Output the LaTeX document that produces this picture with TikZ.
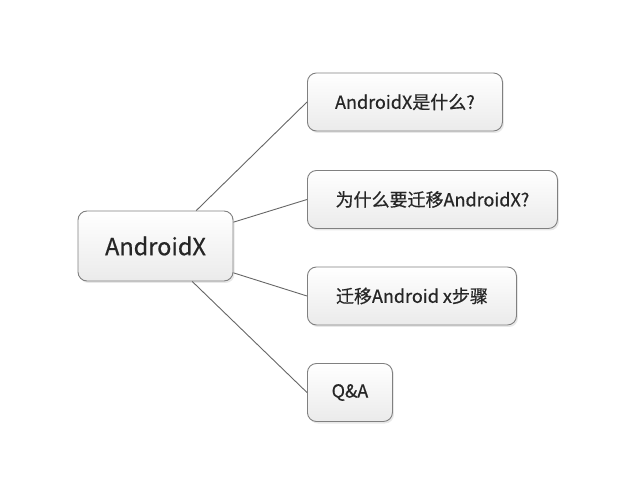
\documentclass[tikz,border=0pt]{standalone}
\usepackage{fontspec}
\newfontfamily\cjk[FakeBold=0.6]{Noto Sans CJK SC}
\usepackage{tikz}
\usetikzlibrary{shadows}

\begin{document}
\begin{tikzpicture}[x=1pt, y=-1pt,
    box/.style={draw=black!50, line width=0.9pt, rounded corners=9pt,
        top color=white, bottom color=black!8, text=black!85, inner sep=0pt,
        drop shadow={opacity=0.18, shadow xshift=1.5pt, shadow yshift=-2pt}},
    topic/.style={box, anchor=west, minimum height=58pt,
        font=\cjk\fontsize{18}{21}\selectfont},
    link/.style={draw=black!60, line width=0.9pt}]
        \useasboundingbox (0,0) rectangle (640,494);
        \node[box, minimum width=155pt, minimum height=70pt,
            font=\cjk\fontsize{23.5}{27}\selectfont] (androidx) at (155.5,246) {AndroidX};
        \node[topic, minimum width=195pt] (what) at (307,102) {AndroidX是什么?};
        \node[topic, minimum width=250pt] (why) at (307,199.5) {为什么要迁移AndroidX?};
        \node[topic, minimum width=209pt] (steps) at (307,296) {迁移Android x步骤};
        \node[topic, minimum width=85pt] (qa) at (307,392.5) {Q\&A};
        \draw[link] (androidx.41) -- (what.west);
        \draw[link] (androidx.17) -- (why.west);
        \draw[link] (androidx.-19) -- (steps.west);
        \draw[link] (androidx.-44) -- (qa.west);
    \end{tikzpicture}
\end{document}
